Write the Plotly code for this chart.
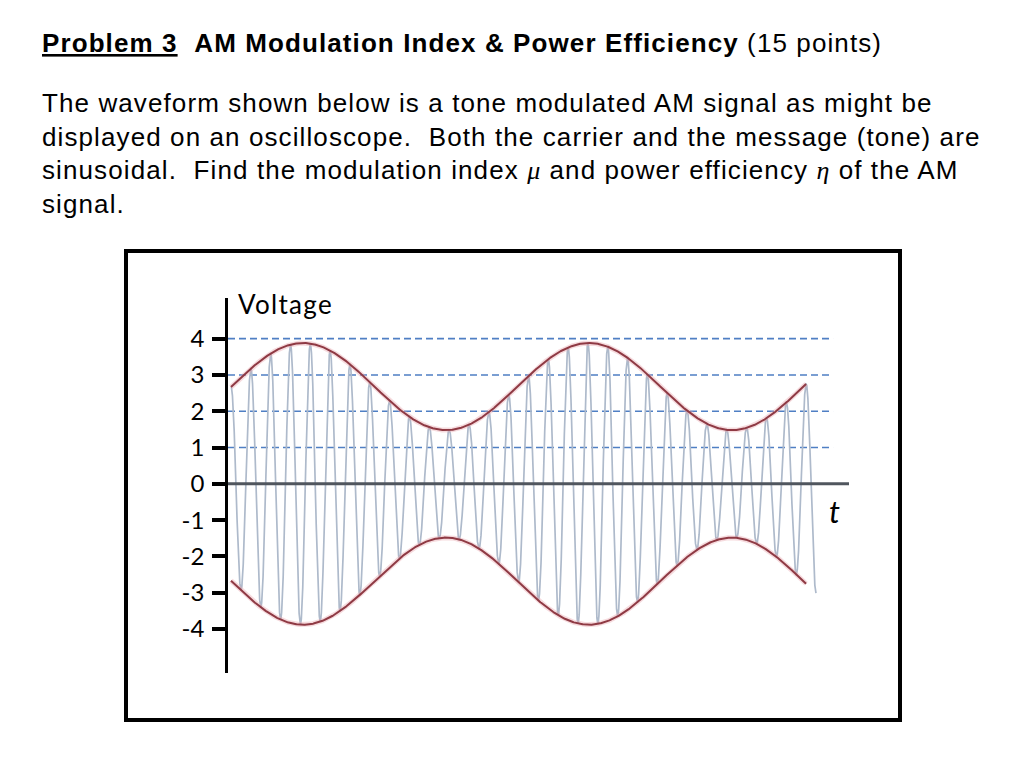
import numpy as np
import plotly.graph_objects as go

# ---- AM waveform description (time measured in carrier periods) ----
carrier_span = [0.0, 29.5]      # first crest .. trough after the 29th crest
envelope_span = [0.0, 29.0]     # envelope drawn crest to crest
message_period = 14.42          # carrier periods per tone period
envelope_max_time = 3.63        # time of first envelope maximum
envelope_peak = 3.88            # A(1+mu)
envelope_trough = 1.48          # A(1-mu)

y_tick_values = [4, 3, 2, 1, 0, -1, -2, -3, -4]
y_tick_labels = ["4", "3", "2", "1", "0", "-1", "-2", "-3", "-4"]
grid_levels = [1, 2, 3, 4]

x_range = [-0.151, 31.165]
y_range = [-5.21, 5.12]
grid_end = 30.36

title_parts = ["Problem 3", "AM Modulation Index & Power Efficiency", "(15 points)"]
body_lines = [
    "The waveform shown below is a tone modulated AM signal as might be",
    "displayed on an oscilloscope.  Both the carrier and the message (tone) are",
    "sinusoidal.  Find the modulation index {mu} and power efficiency {eta} of the AM",
    "signal.",
]

# ---- page geometry ----
W, H = 1024, 771
L, R, T, B = 228, 849, 298, 673


def px(x):
    return (x - L) / (R - L)


def py(y):
    return (B - y) / (B - T)


carrier_amp = (envelope_peak + envelope_trough) / 2
swing = (envelope_peak - envelope_trough) / 2


def envelope(t):
    return carrier_amp + swing * np.cos(2 * np.pi * (t - envelope_max_time) / message_period)


t_car = np.linspace(carrier_span[0], carrier_span[1], 8000)
v_car = envelope(t_car) * np.cos(2 * np.pi * t_car)
t_env = np.linspace(envelope_span[0], envelope_span[1], 1200)
e_env = envelope(t_env)

fig = go.Figure()

fig.add_trace(go.Scatter(x=t_car, y=v_car, mode="lines",
                         line=dict(color="#aebacb", width=1.7),
                         hoverinfo="skip", showlegend=False))
for sign in (1, -1):
    fig.add_trace(go.Scatter(x=t_env, y=sign * e_env, mode="lines",
                             line=dict(color="rgba(232,165,172,0.4)", width=5),
                             hoverinfo="skip", showlegend=False))
    fig.add_trace(go.Scatter(x=t_env, y=sign * e_env, mode="lines",
                             line=dict(color="#8f3a44", width=2),
                             hoverinfo="skip", showlegend=False))

shapes = []
for lv in grid_levels:
    shapes.append(dict(type="line", xref="x", yref="y", x0=x_range[0], x1=grid_end,
                       y0=lv, y1=lv, line=dict(color="#4f7fc4", width=1.6, dash="7px,4px"),
                       layer="below"))
shapes.append(dict(type="line", xref="x", yref="y", x0=x_range[0], x1=x_range[1],
                   y0=0, y1=0, line=dict(color="#50565e", width=3)))
shapes.append(dict(type="rect", xref="paper", yref="paper",
                   x0=px(126), x1=px(900), y0=py(720), y1=py(251),
                   line=dict(color="black", width=4)))

text_font = "Liberation Sans, Arial, sans-serif"
spaced = '<span style="letter-spacing:1.1px">{}</span>'
greek = '<span style="font-family:Liberation Serif;font-style:italic;letter-spacing:1px">{}</span>'

annotations = []
title_html = "<b><u>{}</u></b>  <b>{}</b> {}".format(*title_parts)
annotations.append(dict(text=spaced.format(title_html), xref="paper", yref="paper",
                        x=px(40), y=py(43), xanchor="left", yanchor="middle",
                        showarrow=False,
                        font=dict(family=text_font, size=26, color="black")))
body_y = [103, 137, 170, 204]
for line, yy in zip(body_lines, body_y):
    parts = line.replace("{mu}", "|mu|").replace("{eta}", "|eta|").split("|")
    html = ""
    for p in parts:
        if p == "mu":
            html += greek.format("μ")
        elif p == "eta":
            html += greek.format("η")
        elif p:
            html += spaced.format(p)
    annotations.append(dict(text=html, xref="paper", yref="paper", x=px(40), y=py(yy),
                            xanchor="left", yanchor="middle", showarrow=False,
                            font=dict(family=text_font, size=26, color="black")))

annotations.append(dict(text='<span style="letter-spacing:1.3px">Voltage</span>',
                        xref="paper", yref="paper", x=px(236), y=py(304),
                        xanchor="left", yanchor="middle", showarrow=False,
                        font=dict(family="Lato, sans-serif", size=26, color="black")))
annotations.append(dict(text="<i>t</i>", xref="paper", yref="paper", x=px(834), y=py(511),
                        xanchor="center", yanchor="middle", showarrow=False,
                        font=dict(family="Lato, sans-serif", size=31, color="black")))

fig.update_layout(
    width=W, height=H,
    margin=dict(l=L, r=W - R, t=T, b=H - B, pad=0),
    paper_bgcolor="white", plot_bgcolor="white",
    shapes=shapes, annotations=annotations,
    xaxis=dict(visible=False, range=x_range, fixedrange=True),
    yaxis=dict(range=y_range, showgrid=False, zeroline=False,
               showline=True, linecolor="black", linewidth=2.5,
               ticks="outside", ticklen=13, tickwidth=4, tickcolor="black",
               tickvals=y_tick_values, ticktext=y_tick_labels,
               ticklabelstandoff=3,
               tickfont=dict(family="Lato, sans-serif", size=24, color="black"),
               fixedrange=True),
)

fig.write_html("out.html", config={"displayModeBar": False})
